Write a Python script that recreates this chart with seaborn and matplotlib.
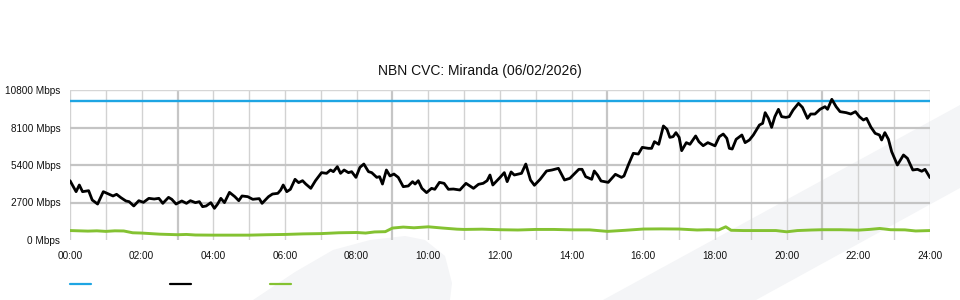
import matplotlib
matplotlib.use("Agg")
import matplotlib.pyplot as plt
from matplotlib.lines import Line2D
from matplotlib.patches import Polygon
import seaborn as sns
import pandas as pd

# ---------------- data ----------------
title = "NBN CVC: Miranda (06/02/2026)"

capacity_hours = [0.0, 24.0]
capacity_mbps = [10000, 10000]

traffic_hours = [
    0.00, 0.17, 0.26, 0.35, 0.52, 0.62, 0.77, 0.93, 1.10, 1.20, 1.30, 1.42, 1.56, 1.65, 1.78, 1.92,
    2.05, 2.20, 2.35, 2.48, 2.59, 2.75, 2.84, 2.96, 3.12, 3.25, 3.36, 3.50, 3.61, 3.70, 3.80, 3.93,
    4.03, 4.12, 4.21, 4.31, 4.45, 4.60, 4.71, 4.80, 4.96, 5.10, 5.28, 5.36, 5.54, 5.65, 5.80, 5.88,
    5.95, 6.05, 6.15, 6.28, 6.38, 6.49, 6.58, 6.72, 6.85, 7.02, 7.16, 7.27, 7.35, 7.46, 7.55, 7.65,
    7.77, 7.86, 7.98, 8.09, 8.20, 8.33, 8.42, 8.56, 8.64, 8.72, 8.83, 8.93, 9.04, 9.16, 9.30, 9.44,
    9.56, 9.63, 9.72, 9.82, 9.95, 10.09, 10.18, 10.31, 10.44, 10.56, 10.70, 10.88, 11.05, 11.26,
    11.40, 11.53, 11.64, 11.72, 11.80, 12.00, 12.12, 12.20, 12.31, 12.40, 12.60, 12.72, 12.85,
    12.96, 13.12, 13.30, 13.45, 13.63, 13.80, 13.95, 14.09, 14.20, 14.29, 14.39, 14.56, 14.63,
    14.72, 14.82, 15.02, 15.22, 15.39, 15.46, 15.58, 15.72, 15.86, 15.97, 16.14, 16.23, 16.31,
    16.43, 16.56, 16.66, 16.74, 16.83, 16.91, 17.00, 17.07, 17.20, 17.30, 17.46, 17.55, 17.67,
    17.80, 18.00, 18.12, 18.23, 18.33, 18.40, 18.48, 18.59, 18.75, 18.84, 18.96, 19.07, 19.24,
    19.33, 19.40, 19.49, 19.58, 19.67, 19.77, 19.86, 19.98, 20.07, 20.18, 20.33, 20.44, 20.58,
    20.67, 20.79, 20.93, 21.07, 21.14, 21.26, 21.38, 21.49, 21.66, 21.79, 21.92, 22.03, 22.14,
    22.23, 22.35, 22.47, 22.59, 22.65, 22.74, 22.84, 22.93, 23.09, 23.26, 23.37, 23.52, 23.65,
    23.77, 23.86, 24.00,
]
traffic_mbps = [
    4270, 3480, 3960, 3480, 3550, 2880, 2590, 3480, 3290, 3170, 3290, 3050, 2810, 2760, 2450, 2830,
    2710, 3000, 2950, 3000, 2640, 3070, 2930, 2590, 2810, 2640, 2830, 2690, 2760, 2400, 2450, 2690,
    2280, 2590, 3000, 2690, 3430, 3120, 2830, 3170, 3120, 2930, 2980, 2640, 3120, 3310, 3360, 3600,
    3960, 3480, 3650, 4370, 4130, 4270, 4030, 3720, 4270, 4850, 4800, 5040, 4920, 5280, 4800, 5040,
    4850, 4920, 4510, 5230, 5470, 4920, 4850, 4510, 4560, 4030, 5040, 4610, 4750, 4510, 3840, 3890,
    4200, 4030, 4270, 3720, 3410, 3720, 3650, 4150, 4080, 3650, 3670, 3600, 4080, 3720,
    4010, 4080, 4270, 4680, 3960, 4500, 4850, 4200, 4900, 4680, 4800, 5470, 4320,
    3940, 4370, 4970, 5040, 5160, 4320, 4440, 4800, 5090, 5090, 4560, 4370, 4970,
    4680, 4250, 4150, 4730, 4510, 4610, 5400, 6240, 6190, 6670, 6600, 6600, 7080,
    6890, 8210, 7970, 7390, 7440, 7730, 7390, 6430, 7010, 6890, 7490, 7080, 6790,
    7010, 6780, 7440, 7630, 7320, 6600, 6550, 7250, 7560, 7010, 7200, 7560, 8280,
    8400, 9170, 8760, 8110, 8880, 9410, 8880, 8830, 8880, 9360, 9840, 9550, 8760,
    9070, 9070, 9410, 9600, 9410, 10130, 9600, 9240, 9170, 9070, 9240, 8880, 8640,
    8760, 8130, 7680, 7560, 7200, 7730, 7250, 6360, 5400, 6120, 5880, 5040, 5090,
    4950, 5090, 4490,
]

upload_hours = [
    0.0, 0.5, 0.75, 1.0, 1.25, 1.5, 1.75, 2.0, 2.5, 3.0, 3.25, 3.5, 4.0, 4.5, 5.0, 5.5, 6.0, 6.5,
    7.0, 7.5, 8.0, 8.25, 8.5, 8.8, 9.0, 9.3, 9.6, 10.0, 10.4, 10.8, 11.0, 11.5, 12.0, 12.5, 13.0,
    13.5, 14.0, 14.5, 15.0, 15.5, 16.0, 16.5, 17.0, 17.5, 17.8, 18.1, 18.3, 18.45, 18.8, 19.2,
    19.7, 20.0, 20.3, 20.7, 21.0, 21.5, 22.0, 22.3, 22.6, 22.9, 23.3, 23.6, 24.0,
]
upload_mbps = [
    680, 640, 660, 620, 660, 650, 520, 500, 420, 380, 400, 360, 350, 350, 350, 380, 400, 440,
    460, 520, 540, 500, 580, 600, 860, 930, 880, 950, 860, 780, 760, 780, 740, 720, 760,
    760, 730, 730, 620, 700, 790, 800, 790, 720, 740, 720, 950, 700, 680, 680,
    680, 590, 680, 720, 740, 740, 710, 760, 830, 740, 730, 650, 680,
]

y_ticks = [0, 2700, 5400, 8100, 10800]
x_tick_hours = list(range(0, 25, 2))
x_tick_labels = [f"{h:02d}:00" for h in x_tick_hours]

# ---------------- style ----------------
sns.set_theme(style="white")
plt.rcParams["font.family"] = ["Liberation Sans", "DejaVu Sans"]

BLUE = "#1ea5e3"
GREEN = "#84c232"
BLACK = "#000000"

W, H = 960, 300
fig = plt.figure(figsize=(W / 100, H / 100), dpi=100)
fig.patch.set_facecolor("white")

# watermark shapes (figure pixel coords -> fraction)
def px(pts):
    return [(x / W, (H - y) / H) for x, y in pts]

fin = Polygon(px([(253, 300), (295, 272), (333, 250), (370, 240), (405, 236), (425, 240),
                  (445, 256), (452, 283), (450, 300)]),
              closed=True, transform=fig.transFigure, facecolor="#f4f5f7", edgecolor="none", zorder=0)
band = Polygon(px([(603, 300), (960, 105), (960, 188), (756, 300)]),
               closed=True, transform=fig.transFigure, facecolor="#f4f5f7", edgecolor="none", zorder=0)
fig.patches.extend([fin, band])

ax = fig.add_axes([70 / W, 60 / H, 860 / W, 150 / H])
ax.set_facecolor("none")
ax.set_zorder(1)

df_cap = pd.DataFrame({"hour": capacity_hours, "mbps": capacity_mbps})
df_tr = pd.DataFrame({"hour": traffic_hours, "mbps": traffic_mbps})
df_up = pd.DataFrame({"hour": upload_hours, "mbps": upload_mbps})

sns.lineplot(data=df_cap, x="hour", y="mbps", ax=ax, color=BLUE, linewidth=1.7, zorder=4)
sns.lineplot(data=df_tr, x="hour", y="mbps", ax=ax, color=BLACK, linewidth=2.0, zorder=5)
sns.lineplot(data=df_up, x="hour", y="mbps", ax=ax, color=GREEN, linewidth=2.1, zorder=3)

ax.set_xlim(0, 24)
ax.set_ylim(0, 10800)

# grid
for h in range(0, 25):
    major = h % 6 == 3
    ax.axvline(h, color="#c6c6c6" if major else "#d2d2d2", linewidth=1.6 if major else 1.0, zorder=1)
for v in y_ticks[1:-1]:
    ax.axhline(v, color="#c4c4c4", linewidth=1.6, zorder=1)
ax.axhline(y_ticks[-1], color="#d6d6d6", linewidth=1.0, zorder=1)

for s in ax.spines.values():
    s.set_visible(False)

ax.set_xticks(x_tick_hours)
ax.set_xticklabels(x_tick_labels)
ax.set_yticks(y_ticks)
ax.set_yticklabels([f"{v} Mbps" for v in y_ticks])
ax.tick_params(axis="both", length=0, labelsize=7.2, colors="#111111")
ax.tick_params(axis="x", pad=8)
ax.tick_params(axis="y", pad=7)
ax.set_xlabel("")
ax.set_ylabel("")

fig.text(480 / W, (H - 71) / H, title, ha="center", va="center", fontsize=10, color="#111111")

handles = [Line2D([], [], color=BLUE, linewidth=1.6),
           Line2D([], [], color=BLACK, linewidth=1.6),
           Line2D([], [], color=GREEN, linewidth=1.6)]
fig.legend(handles, ["", "", ""], ncol=3, loc="center left",
           bbox_to_anchor=(70 / W, 15 / H), frameon=False, fontsize=10,
           handlelength=1.51, handletextpad=0.0, columnspacing=5.68,
           borderpad=0, borderaxespad=0)

fig.savefig("out.png", dpi=100, facecolor="white")
